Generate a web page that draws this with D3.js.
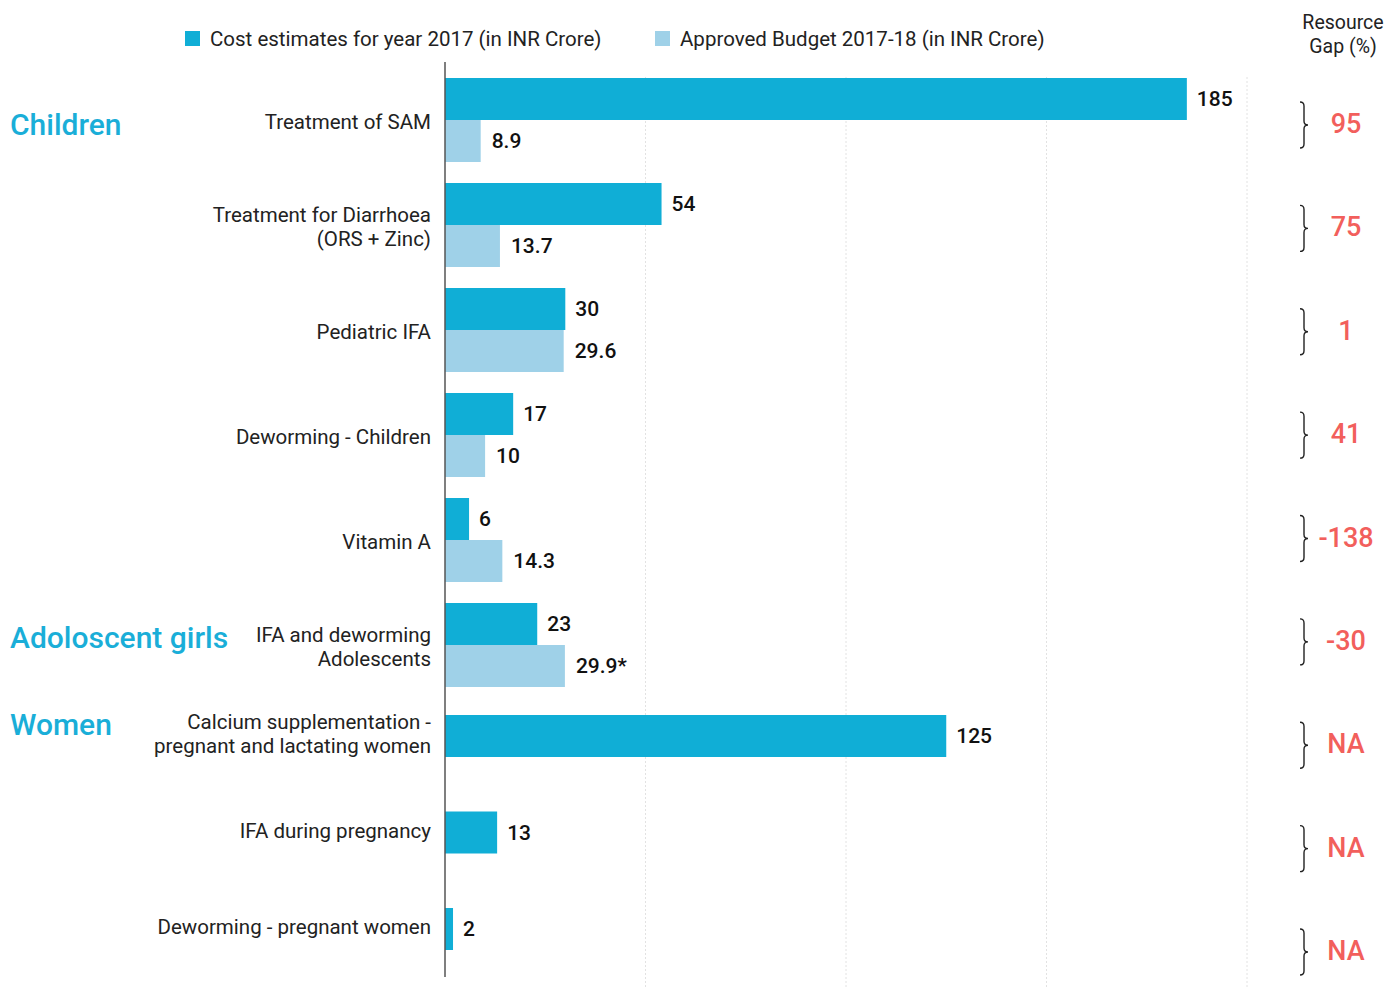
<!DOCTYPE html>
<html>
<head>
<meta charset="utf-8">
<script src="https://cdn.jsdelivr.net/npm/d3@7"></script>
<style>
  body { margin: 0; background: #fff; }
  svg text { font-family: Roboto, "Noto Sans", sans-serif; }
</style>
</head>
<body>
<div id="container"></div>
<script>
// Data
const categories = [
  'Treatment of SAM',
  'Treatment for Diarrhoea|(ORS + Zinc)',
  'Pediatric IFA',
  'Deworming - Children',
  'Vitamin A',
  'IFA and deworming|Adolescents',
  'Calcium supplementation -|pregnant and lactating women',
  'IFA during pregnancy',
  'Deworming - pregnant women'
]
const costEstimates = [185, 54, 30, 17, 6, 23, 125, 13, 2]
const approvedBudget = [8.9, 13.7, 29.6, 10, 14.3, 29.9, null, null, null]
const budgetLabels = ['8.9', '13.7', '29.6', '10', '14.3', '29.9*', '', '', '']
const resourceGap = ['95', '75', '1', '41', '-138', '-30', 'NA', 'NA', 'NA']
const groupNames = ['Children', 'Adoloscent girls', 'Women']
const groupStartRow = [0, 5, 6]
const seriesNames = ['Cost estimates for year 2017 (in INR Crore)', 'Approved Budget 2017-18 (in INR Crore)']
const gridTicks = [50, 100, 150, 200]

// Layout
const width = 1388
const height = 987
const colors = { cost: '#10aed6', budget: '#9fd1e8', group: '#1aaed8', gap: '#f25f5c' }
const barH = 42

const svg = d3.select('#container').append('svg')
  .attr('width', width)
  .attr('height', height)

const x = d3.scaleLinear()
  .domain([0, 200])
  .range([445, 1247])

// rows with two bars
const pairedRows = d3.range(0, 6)
const yPaired = d3.scaleBand()
  .domain(pairedRows)
  .range([78, 687])
  .paddingInner(0.2)
  .paddingOuter(0)

// rows with cost estimate only
const singleRows = d3.range(6, 9)
const ySingle = d3.scalePoint()
  .domain(singleRows)
  .range([736, 929])

// resource gap column
const yGap = d3.scalePoint()
  .domain(d3.range(0, 9))
  .range([125, 952])

function rowCenter(i) {
  if (i < 6) return yPaired(i) + yPaired.bandwidth() / 2
  return ySingle(i)
}

// label offset from the row centre
function labelShift(i) {
  return i < 6 ? 2 : -2
}

// gridlines
svg.append('g')
  .selectAll('line')
  .data(gridTicks)
  .enter().append('line')
    .attr('x1', d => x(d))
    .attr('x2', d => x(d))
    .attr('y1', 77)
    .attr('y2', height)
    .attr('stroke', '#e2e2e2')
    .attr('stroke-width', 1)
    .attr('stroke-dasharray', '2,2')

// bars
const rows = categories.map((c, i) => ({
  i: i,
  cost: costEstimates[i],
  budget: approvedBudget[i],
  budgetLabel: budgetLabels[i]
}))

const bars = svg.append('g')

bars.selectAll('.cost')
  .data(rows)
  .enter().append('rect')
    .attr('class', 'cost')
    .attr('x', x(0))
    .attr('y', d => rowCenter(d.i) - (d.budget == null ? barH / 2 : barH))
    .attr('width', d => x(d.cost) - x(0))
    .attr('height', barH)
    .attr('fill', colors.cost)

bars.selectAll('.budget')
  .data(rows.filter(d => d.budget != null))
  .enter().append('rect')
    .attr('class', 'budget')
    .attr('x', x(0))
    .attr('y', d => rowCenter(d.i))
    .attr('width', d => x(d.budget) - x(0))
    .attr('height', barH)
    .attr('fill', colors.budget)

// value labels
bars.selectAll('.cost-label')
  .data(rows)
  .enter().append('text')
    .attr('class', 'cost-label')
    .attr('x', d => x(d.cost) + 10)
    .attr('y', d => rowCenter(d.i) - (d.budget == null ? 0 : barH / 2))
    .attr('dominant-baseline', 'central')
    .attr('font-size', 21)
    .attr('font-weight', 500)
    .attr('fill', '#111')
    .text(d => d.cost)

bars.selectAll('.budget-label')
  .data(rows.filter(d => d.budget != null))
  .enter().append('text')
    .attr('class', 'budget-label')
    .attr('x', d => x(d.budget) + 11)
    .attr('y', d => rowCenter(d.i) + barH / 2)
    .attr('dominant-baseline', 'central')
    .attr('font-size', 21)
    .attr('font-weight', 500)
    .attr('fill', '#111')
    .text(d => d.budgetLabel)

// axis line
svg.append('line')
  .attr('x1', x(0))
  .attr('x2', x(0))
  .attr('y1', 62)
  .attr('y2', 977)
  .attr('stroke', '#555')
  .attr('stroke-width', 1.5)

// category labels
const lineH = 24
const catLabels = svg.append('g')
  .selectAll('text')
  .data(rows)
  .enter().append('text')
    .attr('x', 431)
    .attr('y', d => rowCenter(d.i) + labelShift(d.i))
    .attr('text-anchor', 'end')
    .attr('font-size', 20.5)
    .attr('fill', '#222')

catLabels.each(function(d) {
  const lines = categories[d.i].split('|')
  const el = d3.select(this)
  lines.forEach((line, k) => {
    el.append('tspan')
      .attr('x', 431)
      .attr('dy', k === 0 ? -(lines.length - 1) * lineH / 2 : lineH)
      .attr('dominant-baseline', 'central')
      .text(line)
  })
})

// group labels
svg.append('g')
  .selectAll('text')
  .data(groupNames)
  .enter().append('text')
    .attr('x', 10)
    .attr('y', (d, k) => {
      const r = groupStartRow[k]
      const nLines = categories[r].split('|').length
      return rowCenter(r) + labelShift(r) - (nLines - 1) * lineH / 2 + 2
    })
    .attr('dominant-baseline', 'central')
    .attr('font-size', 30)
    .attr('font-weight', 500)
    .attr('fill', colors.group)
    .text(d => d)

// legend
const legend = svg.append('g')
const legendX = [185, 655]
const legendColors = [colors.cost, colors.budget]
legend.selectAll('rect')
  .data(seriesNames)
  .enter().append('rect')
    .attr('x', (d, k) => legendX[k])
    .attr('y', 31)
    .attr('width', 15)
    .attr('height', 15)
    .attr('fill', (d, k) => legendColors[k])
legend.selectAll('text')
  .data(seriesNames)
  .enter().append('text')
    .attr('x', (d, k) => legendX[k] + 25)
    .attr('y', 39)
    .attr('dominant-baseline', 'central')
    .attr('font-size', 20.5)
    .attr('fill', '#222')
    .text(d => d)

// resource gap header
const header = svg.append('text')
  .attr('x', 1343)
  .attr('y', 22)
  .attr('text-anchor', 'middle')
  .attr('font-size', 19.5)
  .attr('fill', '#222')
header.append('tspan').attr('x', 1343).attr('dominant-baseline', 'central').text('Resource')
header.append('tspan').attr('x', 1343).attr('dy', 24).attr('dominant-baseline', 'central').text('Gap (%)')

// braces and gap values
function bracePath(cx, cy) {
  const h = 23
  return `M${cx},${cy - h} q4,0 4,4 v${h - 8} q0,4 4,4 q-4,0 -4,4 v${h - 8} q0,4 -4,4`
}

const gaps = svg.append('g')
  .selectAll('g')
  .data(resourceGap)
  .enter().append('g')

gaps.append('path')
  .attr('d', (d, i) => bracePath(1300, yGap(i)))
  .attr('fill', 'none')
  .attr('stroke', '#222')
  .attr('stroke-width', 1.4)

gaps.append('text')
  .attr('x', 1346)
  .attr('y', (d, i) => yGap(i) - 1)
  .attr('text-anchor', 'middle')
  .attr('dominant-baseline', 'central')
  .attr('font-size', 27)
  .attr('font-weight', 500)
  .attr('fill', colors.gap)
  .text(d => d)
</script>
</body>
</html>
